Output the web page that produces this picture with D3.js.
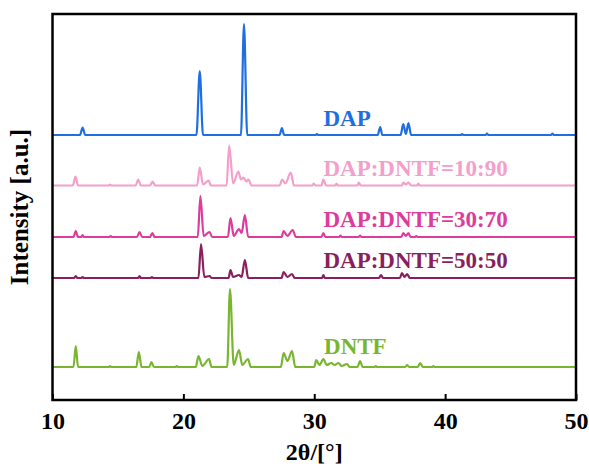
<!DOCTYPE html>
<html><head><meta charset="utf-8">
<script src="https://cdn.jsdelivr.net/npm/d3@7"></script>
<style>
html,body{margin:0;padding:0;background:#fff;}
svg text{font-family:'Liberation Serif','DejaVu Serif',serif;font-weight:bold;}
</style></head>
<body><svg id="c" width="589" height="467"></svg>
<script>
// ---- data ----
const seriesNames = ["DAP", "DAP:DNTF=10:90", "DAP:DNTF=30:70", "DAP:DNTF=50:50", "DNTF"];
const seriesColors = ["#1f6fe0", "#f49fcb", "#dc3c9c", "#8a1f5e", "#7ab530"];
const seriesOffsets = [265, 214.5, 163, 122, 33];
const xTicks = [10, 20, 30, 40, 50];

const dapData = [[10,0],[12.1,0],[12.3,7.5],[12.5,0],[21.0,0],[21.25,64],[21.5,0],[24.4,0],[24.63,111],[24.88,0],[27.35,0],[27.53,7],[27.7,0],[30.1,0],[30.2,1],[30.3,0],[34.85,0],[35.04,8],[35.2,0],[36.6,0],[36.8,11],[37.0,1],[37.2,12],[37.4,0],[41.2,0],[41.3,1],[41.4,0],[43.1,0],[43.2,1.5],[43.3,0],[48.1,0],[48.2,1.5],[48.3,0],[50,0]];
const mix1090Data = [[10,0],[11.55,0],[11.76,9],[11.95,0],[14.3,0],[14.4,1],[14.5,0],[16.35,0],[16.55,6],[16.75,0],[17.45,0],[17.65,4],[17.85,0],[21.05,0],[21.25,18],[21.5,1],[21.93,5],[22.1,0],[23.3,0],[23.5,40],[23.8,2],[24.2,14],[24.4,6],[24.6,8],[24.8,4],[24.98,6],[25.2,0],[27.35,0],[27.55,6],[27.8,2],[28.2,13],[28.45,0],[29.85,0],[29.95,2],[30.1,0],[30.55,0],[30.7,6],[30.9,0],[31.6,0],[31.7,2],[31.8,0],[33.3,0],[33.4,3],[33.55,0],[36.7,0],[36.8,3],[37.0,1],[37.2,3],[37.4,0],[37.85,0],[37.95,2],[38.05,0],[50,0]];
const mix3070Data = [[10,0],[11.6,0],[11.78,6],[11.95,0],[12.2,0],[12.3,2],[12.4,0],[14.35,0],[14.45,1],[14.55,0],[16.45,0],[16.65,5],[16.85,0],[17.45,0],[17.63,4],[17.8,0],[21.1,0],[21.3,41],[21.55,1],[22.0,5],[22.2,0],[23.4,0],[23.6,19],[23.85,1],[24.25,8],[24.45,4],[24.7,22],[24.95,0],[27.5,0],[27.66,6],[27.95,1],[28.35,7],[28.6,0],[30.55,0],[30.7,4],[30.85,0],[31.9,0],[32.0,1.5],[32.1,0],[33.4,0],[33.5,1.5],[33.6,0],[36.65,0],[36.8,4],[37.0,1],[37.2,4],[37.35,0],[37.7,0],[37.8,1],[37.9,0],[50,0]];
const mix5050Data = [[10,0],[11.65,0],[11.78,2],[11.9,0],[12.2,0],[12.3,1],[12.4,0],[16.55,0],[16.65,2],[16.75,0],[17.5,0],[17.6,1],[17.7,0],[21.15,0],[21.35,34],[21.6,1],[22.0,2],[22.15,0],[23.45,0],[23.6,8],[23.8,1],[24.25,3],[24.45,1],[24.7,18],[24.95,0],[27.5,0],[27.66,6],[27.95,1],[28.3,4],[28.5,0],[30.6,0],[30.7,3],[30.8,0],[34.95,0],[35.1,3],[35.25,0],[36.55,0],[36.7,5],[36.9,1],[37.1,4],[37.3,0],[50,0]];
const dntfData = [[10,0],[11.6,0],[11.78,21],[11.95,0],[14.3,0],[14.4,1],[14.5,0],[16.4,0],[16.6,15],[16.8,0],[17.4,0],[17.56,5],[17.75,0],[19.4,0],[19.5,1],[19.6,0],[20.95,0],[21.15,11],[21.45,1],[21.96,8],[22.15,0],[23.35,0],[23.56,78],[23.85,2],[24.25,17],[24.5,2],[24.94,8],[25.15,0],[27.45,0],[27.66,14],[27.95,6],[28.3,16],[28.55,0],[30.0,0],[30.15,7],[30.4,2],[30.7,8],[30.95,2],[31.3,4],[31.55,2],[31.85,4],[32.1,1],[32.5,3],[32.7,0],[33.3,0],[33.5,6],[33.7,0],[34.6,0],[34.7,1],[34.8,0],[36.95,0],[37.1,2],[37.25,0],[37.9,0],[38.1,4],[38.3,0],[39.0,0],[39.1,1],[39.2,0],[50,0]];
const seriesData = [dapData, mix1090Data, mix3070Data, mix5050Data, dntfData];
const labelAnchor = [[30.7, 9], [30.7, 9.5], [30.7, 10], [30.7, 10], [30.75, 13]]; // [2theta, height above baseline]

// ---- layout ----
const svg = d3.select("#c");
const FONT = "'Liberation Serif','DejaVu Serif',serif";
const L = 52.5, R = 576, T = 14, B = 400;
const x = d3.scaleLinear().domain([10, 50]).range([L, R]);
const y = d3.scaleLinear().domain([0, 386]).range([B, T]);

const line = d3.line().x(d => x(d[0])).y(d => y(d[1])).curve(d3.curveMonotoneX);

seriesData.forEach((data, i) => {
  const off = seriesOffsets[i];
  svg.append("path")
    .datum(data.map(d => [d[0], d[1] + off]))
    .attr("d", line)
    .attr("fill", "none")
    .attr("stroke", seriesColors[i])
    .attr("stroke-width", 2.2)
    .attr("stroke-linejoin", "round");
  svg.append("text")
    .attr("x", x(labelAnchor[i][0]))
    .attr("y", y(off + labelAnchor[i][1]))
    .attr("fill", seriesColors[i])
    .attr("font-family", FONT).attr("font-weight", "bold")
    .attr("font-size", 23)
    .text(seriesNames[i]);
});

// frame
svg.append("rect").attr("x", L).attr("y", T).attr("width", R - L).attr("height", B - T)
  .attr("fill", "none").attr("stroke", "#000").attr("stroke-width", 2.5);

// x axis
const ax = svg.append("g").attr("transform", `translate(0,${B})`)
  .call(d3.axisBottom(x).tickValues(xTicks).tickFormat(d3.format("d")).tickSizeInner(-6).tickSizeOuter(0).tickPadding(12));
ax.attr("font-family", FONT).attr("font-size", 24).attr("font-weight", "bold");
ax.select(".domain").remove();
ax.selectAll(".tick line").attr("stroke", "#000").attr("stroke-width", 2);
ax.selectAll(".tick text").attr("fill", "#000");

svg.append("text").attr("x", (L + R) / 2).attr("y", 460).attr("text-anchor", "middle")
  .attr("font-family", FONT).attr("font-weight", "bold")
  .attr("font-size", 24).text("2θ/[°]");
svg.append("text").attr("transform", `translate(28,${(T + B) / 2}) rotate(-90)`).attr("text-anchor", "middle")
  .attr("font-family", FONT).attr("font-weight", "bold")
  .attr("font-size", 25).text("Intensity [a.u.]");
</script></body></html>
